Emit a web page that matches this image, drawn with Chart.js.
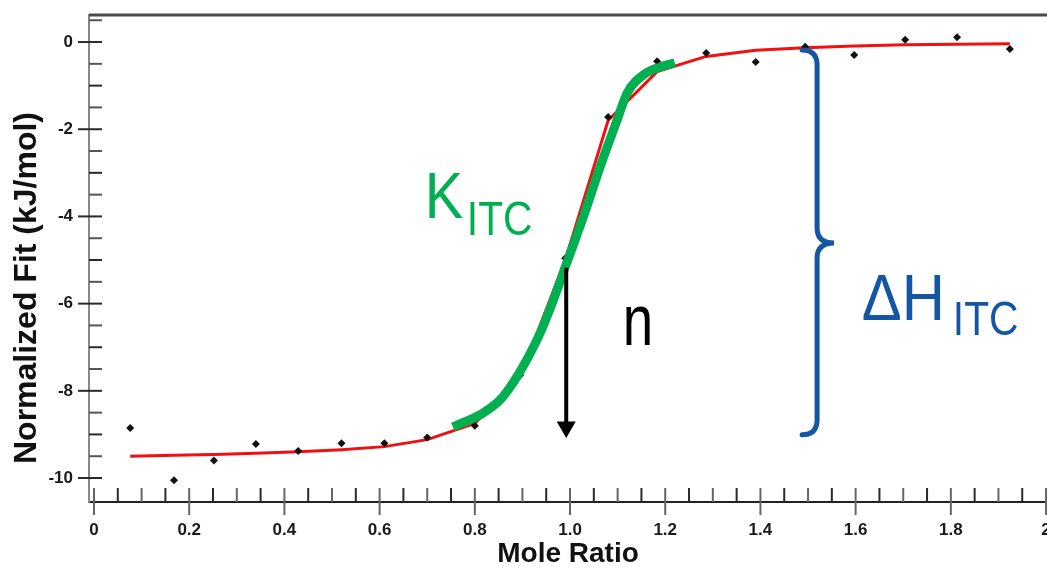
<!DOCTYPE html>
<html>
<head>
<meta charset="utf-8">
<script src="https://cdn.jsdelivr.net/npm/chart.js@4.4.1/dist/chart.umd.min.js"></script>
<style>
html, body { margin: 0; padding: 0; background: #fff; }
#wrap { width: 1047px; height: 571px; }
</style>
</head>
<body>
<div id="wrap"><canvas id="mycanvas" width="1047" height="571"></canvas></div>
<script>
// injections (mole ratio) and normalized heats
var ratio = [0.076, 0.168, 0.252, 0.340, 0.429, 0.520, 0.610, 0.700, 0.800, 0.895,
             0.990, 1.080, 1.183, 1.286, 1.390, 1.494, 1.597, 1.704, 1.813, 1.924];
var heat = [-8.85, -10.05, -9.60, -9.22, -9.38, -9.20, -9.20, -9.07, -8.80, -7.64,
            -4.96, -1.72, -0.44, -0.25, -0.46, -0.11, -0.30, 0.05, 0.11, -0.16];
// fitted curve at the same ratios
var fit = [-9.50, -9.48, -9.46, -9.43, -9.40, -9.35, -9.28, -9.12, -8.75, -7.70,
           -5.00, -1.80, -0.68, -0.33, -0.19, -0.13, -0.09, -0.06, -0.05, -0.04];

// green K_ITC highlight along the slope
var kRatio = [0.754, 0.817, 0.853, 0.880, 0.909, 0.937, 0.965, 0.993, 1.028, 1.063, 1.099, 1.120, 1.160, 1.190, 1.220];
var kHeat = [-8.83, -8.51, -8.21, -7.82, -7.29, -6.68, -5.92, -5.07, -4.01, -2.87, -1.79, -1.17, -0.71, -0.57, -0.48];

// n arrow (stoichiometry)
var arrowRatio = [0.992, 0.992];
var arrowHeat = [-5.18, -8.83];

// dH brace: x, top, middle, bottom
var brace = [1.519, -0.18, -4.61, -9.01];

var xTickValues = [0, 0.2, 0.4, 0.6, 0.8, 1.0, 1.2, 1.4, 1.6, 1.8, 2.0];
var xTickLabels = ['0', '0.2', '0.4', '0.6', '0.8', '1.0', '1.2', '1.4', '1.6', '1.8', '2'];
var yTickValues = [0, -2, -4, -6, -8, -10];
var yTickLabels = ['0', '-2', '-4', '-6', '-8', '-10'];
var yTitle = 'Normalized Fit (kJ/mol)';

function pts(xs, ys) {
    var out = [];
    for (var i in xs) out.push({x: xs[i], y: ys[i]});
    return out;
}

var FONT = '"Liberation Sans", Arial, sans-serif';

function drawText(ctx, txt, px, py, size, sx, color) {
    ctx.save();
    ctx.translate(px, py);
    ctx.scale(sx, 1);
    ctx.font = size + 'px ' + FONT;
    ctx.fillStyle = color;
    ctx.textBaseline = 'alphabetic';
    ctx.textAlign = 'left';
    ctx.fillText(txt, 0, 0);
    ctx.restore();
}

// no automatic padding around the plot area
function noPad(s) {
    s.paddingLeft = 0; s.paddingRight = 0; s.paddingTop = 0; s.paddingBottom = 0;
}

var extras = {
    id: 'extras',
    beforeDatasetsDraw: function(chart) {
        var ctx = chart.ctx, xs = chart.scales.x, ys = chart.scales.y, a = chart.chartArea;
        ctx.save();
        // top frame line
        ctx.strokeStyle = '#4a4a4a';
        ctx.lineWidth = 3;
        ctx.beginPath(); ctx.moveTo(a.left, a.top); ctx.lineTo(a.right, a.top); ctx.stroke();

        // inward ticks, x
        ctx.lineWidth = 2;
        for (var i = 0; i <= 40; i++) {
            var px = xs.getPixelForValue(i * 0.05);
            var major = i % 4 === 0;
            ctx.strokeStyle = (i % 2) ? '#2a2a2a' : '#666';
            ctx.beginPath();
            ctx.moveTo(px, a.bottom - 14);
            ctx.lineTo(px, a.bottom + (major ? 13 : 0));
            ctx.stroke();
        }
        // inward ticks, y
        for (var j = 0; j <= 21; j++) {
            var py = ys.getPixelForValue(-10 + j * 0.5);
            var maj = j % 4 === 0;
            ctx.strokeStyle = (j % 2) ? '#555' : '#2a2a2a';
            ctx.beginPath();
            ctx.moveTo(a.left - (maj ? 11 : 0), py);
            ctx.lineTo(a.left + 13, py);
            ctx.stroke();
        }

        // y axis title, sits a little below the middle of the axis
        ctx.translate(27, 288);
        ctx.rotate(-Math.PI / 2);
        ctx.font = 'bold 32px ' + FONT;
        ctx.fillStyle = '#111';
        ctx.textAlign = 'center';
        ctx.textBaseline = 'middle';
        ctx.fillText(yTitle, 0, 0);
        ctx.restore();
    },
    afterDatasetsDraw: function(chart) {
        var ctx = chart.ctx, xs = chart.scales.x, ys = chart.scales.y;
        ctx.save();
        // curly brace for dH
        var bx = xs.getPixelForValue(brace[0]);
        var bt = ys.getPixelForValue(brace[1]);
        var bm = ys.getPixelForValue(brace[2]);
        var bb = ys.getPixelForValue(brace[3]);
        var r = 15;
        ctx.strokeStyle = '#1456a4';
        ctx.lineWidth = 5;
        ctx.lineCap = 'round';
        ctx.beginPath();
        ctx.moveTo(bx - r, bt);
        ctx.quadraticCurveTo(bx, bt, bx, bt + r);
        ctx.lineTo(bx, bm - r);
        ctx.quadraticCurveTo(bx, bm, bx + r + 2, bm);
        ctx.quadraticCurveTo(bx, bm, bx, bm + r);
        ctx.lineTo(bx, bb - r);
        ctx.quadraticCurveTo(bx, bb, bx - r, bb);
        ctx.stroke();

        // annotation texts
        var kx = xs.getPixelForValue(0.695), ky = ys.getPixelForValue(-4.04);
        drawText(ctx, 'K', kx, ky, 64, 0.9, '#00b050');
        drawText(ctx, 'ITC', kx + 42, ky + 17, 48, 0.85, '#00b050');

        drawText(ctx, 'n', xs.getPixelForValue(1.111), ys.getPixelForValue(-6.95), 73, 0.75, '#000');

        var hx = xs.getPixelForValue(1.613), hy = ys.getPixelForValue(-6.38);
        drawText(ctx, '\u0394H', hx, hy, 65, 0.92, '#1456a4');
        drawText(ctx, 'ITC', hx + 91, hy + 15, 48, 0.85, '#1456a4');
        ctx.restore();
    }
};

var ctx = document.getElementById('mycanvas');

var chart = new Chart(ctx, {
    type: 'line',
    data: {
        datasets: [
            {
                label: 'n',
                data: pts(arrowRatio, arrowHeat),
                borderColor: '#000',
                backgroundColor: '#000',
                borderWidth: 4,
                pointStyle: 'triangle',
                pointRotation: 180,
                pointRadius: [0, 11],
                pointBorderWidth: 0,
                order: 0
            },
            {
                label: 'K',
                data: pts(kRatio, kHeat),
                borderColor: '#00b050',
                borderWidth: 9,
                borderCapStyle: 'butt',
                cubicInterpolationMode: 'monotone',
                pointRadius: 0,
                order: 1
            },
            {
                label: 'data',
                data: pts(ratio, heat),
                showLine: false,
                pointStyle: 'rectRot',
                pointRadius: 4,
                pointBackgroundColor: '#111',
                pointBorderColor: '#111',
                pointBorderWidth: 0,
                order: 2
            },
            {
                label: 'fit',
                data: pts(ratio, fit),
                borderColor: '#f01010',
                borderWidth: 3,
                tension: 0,
                pointRadius: 0,
                order: 3
            }
        ]
    },
    options: {
        responsive: false,
        animation: false,
        layout: { padding: { top: 15, right: 0, bottom: 0, left: 0 }, autoPadding: false },
        plugins: { legend: { display: false }, tooltip: { enabled: false } },
        scales: {
            x: {
                type: 'linear',
                min: -0.0105,
                max: 2.002,
                afterFit: function(s) { s.height = 69; noPad(s); },
                afterBuildTicks: function(s) {
                    s.ticks = xTickValues.map(function(v) { return {value: v}; });
                },
                grid: { display: false, drawTicks: false },
                border: { display: true, color: '#222', width: 2 },
                ticks: {
                    autoSkip: false,
                    maxRotation: 0,
                    padding: 18,
                    color: '#1a1a1a',
                    font: { family: FONT, size: 17, weight: 'bold' },
                    callback: function(v, i) { return xTickLabels[i]; }
                },
                title: {
                    display: true,
                    text: 'Mole Ratio',
                    color: '#111',
                    font: { family: FONT, size: 28, weight: 'bold' },
                    padding: { top: 0, bottom: 0 }
                }
            },
            y: {
                min: -10.55,
                max: 0.62,
                afterFit: function(s) { s.width = 89; noPad(s); },
                afterBuildTicks: function(s) {
                    s.ticks = yTickValues.map(function(v) { return {value: v}; });
                },
                grid: { display: false, drawTicks: false },
                border: { display: true, color: '#888', width: 2 },
                ticks: {
                    autoSkip: false,
                    padding: 16,
                    color: '#1a1a1a',
                    font: { family: FONT, size: 17, weight: 'bold' },
                    callback: function(v, i) { return yTickLabels[i]; }
                },
                title: { display: false }
            }
        }
    },
    plugins: [extras]
});
</script>
</body>
</html>
